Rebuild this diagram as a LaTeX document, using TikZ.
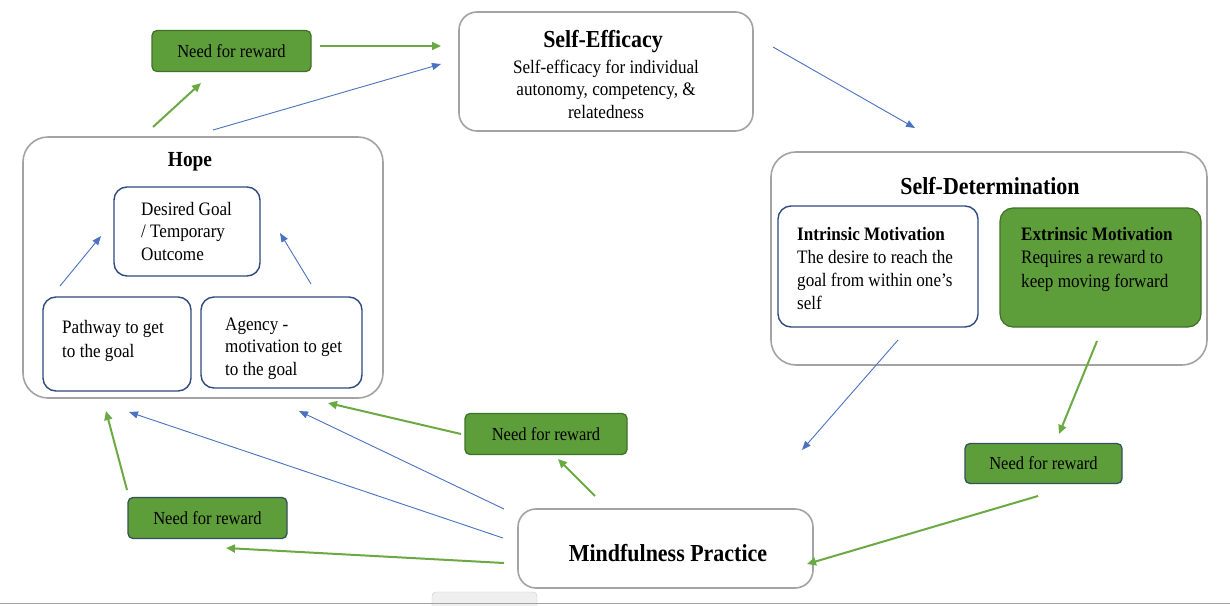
\documentclass[tikz,border=0pt]{standalone}
\usepackage{fontspec}
\setmainfont[FakeStretch=0.9]{Liberation Serif}
\usetikzlibrary{arrows.meta}
\definecolor{bluear}{HTML}{4A72C0}
\definecolor{greenar}{HTML}{6BAA43}
\definecolor{greenfill}{HTML}{5E9E3A}
\definecolor{greenborder}{HTML}{3F7229}
\definecolor{darkslate}{HTML}{34505C}
\definecolor{navy}{HTML}{2E4A7E}
\definecolor{grayb}{HTML}{A3A3A3}
\definecolor{tabgray}{HTML}{EFEFEF}
\begin{document}
\begin{tikzpicture}[x=1pt,y=-1pt,
  graybox/.style={draw=grayb, line width=1.6pt, fill=white, rounded corners=18pt, inner sep=0pt},
  navybox/.style={draw=navy, line width=1.4pt, fill=white, rounded corners=13pt, inner sep=0pt},
  greenbox/.style={draw=greenborder, line width=1.2pt, fill=greenfill, rounded corners=13pt, inner sep=0pt},
  rewardbox/.style={draw=#1, line width=1.3pt, fill=greenfill, rounded corners=5pt, inner sep=0pt,
     minimum width=159pt, minimum height=41pt, font=\fontsize{18.4}{20}\selectfont},
  title/.style={inner sep=0pt, anchor=base, font=\fontsize{24.4}{27}\selectfont\bfseries},
  body/.style={inner sep=0pt, font=\fontsize{19}{22.7}\selectfont},
  bluearrow/.style={draw=bluear, line width=0.9pt, -{Triangle[length=9pt,width=7pt]}},
  greenarrow/.style={draw=greenar, line width=2pt, -{Triangle[length=9pt,width=8pt]}}
]
\useasboundingbox (0,0) rectangle (1230,605);
\fill[white] (0,0) rectangle (1230,605);

% bottom screenshot strip
\draw[draw=grayb!60, fill=tabgray, rounded corners=4pt] (432,592) rectangle (537,615);
\draw[grayb, line width=1pt] (0,603.5) -- (1230,603.5);

% Self-Efficacy
\node[graybox, minimum width=294pt, minimum height=119pt] (se) at (606,71.5) {};
\node[title] (setitle) at (603,47) {Self-Efficacy};
\node[body, align=center, anchor=base] (sebody) at (606,118.5) {Self-efficacy for individual\\autonomy, competency, \&\\relatedness};

% Self-Determination
\node[graybox, rounded corners=25pt, minimum width=436pt, minimum height=213pt] (sd) at (989,258.5) {};
\node[title] (sdtitle) at (990,194) {Self-Determination};
\node[navybox, minimum width=200pt, minimum height=121pt] (im) at (878,266.5) {};
\node[body, align=left, anchor=base west, font=\fontsize{19}{23}\selectfont] (imtext) at (797,309) {\textbf{Intrinsic Motivation}\\The desire to reach the\\goal from within one’s\\self};
\node[greenbox, minimum width=201pt, minimum height=119pt] (em) at (1100.5,267.5) {};
\node[body, align=left, anchor=base west, font=\fontsize{19}{23.5}\selectfont] (emtext) at (1021,287) {\textbf{Extrinsic Motivation}\\Requires a reward to\\keep moving forward};

% Hope
\node[graybox, rounded corners=25pt, minimum width=360pt, minimum height=261pt] (hope) at (203,267.5) {};
\node[title, font=\fontsize{21.5}{24}\selectfont\bfseries] (hopetitle) at (190,166) {Hope};
\node[navybox, minimum width=146pt, minimum height=89pt] (goal) at (187,231.5) {};
\node[body, align=left, anchor=base west] (goaltext) at (141,260.4) {Desired Goal\\/ Temporary\\Outcome};
\node[navybox, minimum width=148pt, minimum height=94pt] (path) at (117,344) {};
\node[body, align=left, anchor=base west, font=\fontsize{19}{23.5}\selectfont] (pathtext) at (62,357) {Pathway to get\\to the goal};
\node[navybox, minimum width=161pt, minimum height=91pt] (agency) at (281.5,342.5) {};
\node[body, align=left, anchor=base west] (agencytext) at (225,375.4) {Agency -\\motivation to get\\to the goal};

% Mindfulness
\node[graybox, minimum width=295pt, minimum height=79pt] (mind) at (665.5,548.5) {};
\node[title] (mindtext) at (668,561) {Mindfulness Practice};

% Need for reward boxes
\node[rewardbox=greenborder, yshift=-1.5pt] (nr1) at (231.5,49.5) {Need for reward};
\node[rewardbox=greenborder, minimum width=162pt, yshift=-1.5pt] (nr2) at (546,432.5) {Need for reward};
\node[rewardbox=darkslate, yshift=-1.5pt] (nr3) at (207.5,516.5) {Need for reward};
\node[rewardbox=darkslate, minimum width=157pt, minimum height=40pt, yshift=-1.5pt] (nr4) at (1043.5,462) {Need for reward};

% arrow end points
\coordinate (a1s) at (320,46);   \coordinate (a1e) at (441,46);
\coordinate (a2s) at (213,130);  \coordinate (a2e) at (441,64);
\coordinate (a3s) at (153,127);  \coordinate (a3e) at (201,83);
\coordinate (a4s) at (773,47);   \coordinate (a4e) at (915,128);
\coordinate (a5s) at (898,340);  \coordinate (a5e) at (802,450);
\coordinate (a6s) at (1097,341); \coordinate (a6e) at (1059,434);
\coordinate (a7s) at (1038,496); \coordinate (a7e) at (807,564);
\coordinate (a8s) at (595,496);  \coordinate (a8e) at (558,459);
\coordinate (a9s) at (461,434);  \coordinate (a9e) at (328,403);
\coordinate (a10s) at (504,509); \coordinate (a10e) at (299,411);
\coordinate (a11s) at (503,538); \coordinate (a11e) at (129,412);
\coordinate (a12s) at (504,563); \coordinate (a12e) at (226,548);
\coordinate (a13s) at (127,490); \coordinate (a13e) at (106,411);
\coordinate (a14s) at (60,286);  \coordinate (a14e) at (101,236);
\coordinate (a15s) at (311,284); \coordinate (a15e) at (280,233);

\draw[greenarrow] (a1s) -- (a1e);
\draw[bluearrow] (a2s) -- (a2e);
\draw[greenarrow] (a3s) -- (a3e);
\draw[bluearrow] (a4s) -- (a4e);
\draw[bluearrow] (a5s) -- (a5e);
\draw[greenarrow] (a6s) -- (a6e);
\draw[greenarrow] (a7s) -- (a7e);
\draw[greenarrow] (a8s) -- (a8e);
\draw[greenarrow] (a9s) -- (a9e);
\draw[bluearrow] (a10s) -- (a10e);
\draw[bluearrow] (a11s) -- (a11e);
\draw[greenarrow] (a12s) -- (a12e);
\draw[greenarrow] (a13s) -- (a13e);
\draw[bluearrow] (a14s) -- (a14e);
\draw[bluearrow] (a15s) -- (a15e);
\end{tikzpicture}
\end{document}
